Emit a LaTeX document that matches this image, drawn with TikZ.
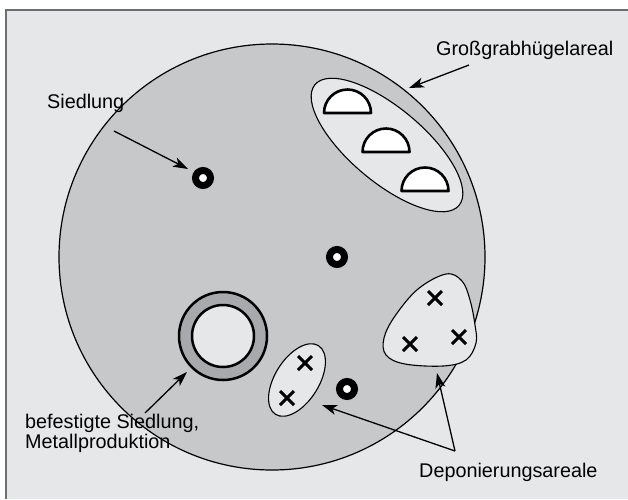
\documentclass[tikz,border=0pt]{standalone}
\usepackage{fontspec}
\setmainfont{Liberation Sans}
\usetikzlibrary{shapes.geometric,arrows.meta}
\definecolor{bg}{HTML}{E6E7E8}
\definecolor{regionfill}{HTML}{C7C8CA}
\definecolor{ringfill}{HTML}{A7A9AC}
\definecolor{framecol}{HTML}{6D6E71}
\tikzset{
  lbl/.style={font=\fontsize{19.8}{17.5}\selectfont, inner sep=0pt, anchor=base west, align=left},
  arr/.style={line width=1.3pt, -{Stealth[length=15pt,width=10pt,inset=4pt]}},
  area/.style={draw=black, line width=1.1pt, fill=bg},
  dome/.style={draw=black, line width=2.6pt, fill=white, line join=round},
  dot/.style={circle, draw=black, line width=7pt, fill=white, minimum size=15pt, inner sep=0pt},
  xm/.pic={\draw[line width=3pt] (-7,-7)--(7,7) (-7,7)--(7,-7);}
}
\begin{document}
\begin{tikzpicture}[x=1pt,y=-1pt]
\useasboundingbox (0,0) rectangle (628,499);
\fill[white] (0,0) rectangle (628,499);
\fill[bg] (6,10) rectangle (628,499);
\draw[framecol, line width=1.4pt] (6,499) -- (6,10) -- (628,10);
% main region
\node[circle, draw=black, line width=1.2pt, fill=regionfill, minimum size=426pt, inner sep=0pt] (region) at (272,257) {};
% Grossgrabhuegel area
\node[ellipse, area, minimum width=188pt, minimum height=74pt, rotate=-40] (hugel) at (387,145) {};
\draw[dome] (324,113) arc (180:360:23.5) -- cycle;
\draw[dome] (362.5,152) arc (180:360:23.5) -- cycle;
\draw[dome] (401.5,191) arc (180:360:23.5) -- cycle;
% settlements
\node[dot] (s1) at (203,178) {};
\node[dot] (s2) at (337,257) {};
\node[dot] (s3) at (347,389) {};
% fortified settlement
\node[circle, draw=black, line width=2.5pt, fill=ringfill, minimum size=88pt, inner sep=0pt] (ring) at (223,336) {};
\node[circle, draw=black, line width=2.5pt, fill=bg, minimum size=62pt, inner sep=0pt] (ringin) at (223,336) {};
% deposit areas
\node[ellipse, area, minimum width=81pt, minimum height=44pt, rotate=58] (dep1) at (297,380) {};
\pic at (305,363) {xm};
\pic at (287,398) {xm};
\draw[area] plot[smooth cycle, tension=0.6] coordinates {(446,274) (462,281) (470,300) (475,325) (476,343) (466,360) (443,366) (405,364) (386,355) (384,338) (395,316) (418,289)};
\pic at (435,298) {xm};
\pic at (459,337) {xm};
\pic at (410,344) {xm};
% labels
\node[lbl] (lg) at (436,55) {Großgrabhügelareal};
\node[lbl] (ls) at (47,108) {Siedlung};
\node[lbl] (lb) at (25,448) {befestigte Siedlung,\\Metallproduktion};
\node[lbl] (ld) at (419,477) {Deponierungsareale};
% arrows
\coordinate (ga) at (469,65);
\coordinate (gt) at (409,88);
\coordinate (sa) at (114,131);
\coordinate (st) at (188,169);
\coordinate (ba) at (145,413);
\coordinate (bt) at (187,372);
\coordinate (dv) at (455,451);
\coordinate (dt1) at (322,405);
\coordinate (dt2) at (437,373);
\draw[arr] (ga) -- (gt);
\draw[arr] (sa) -- (st);
\draw[arr] (ba) -- (bt);
\draw[arr] (dv) -- (dt1);
\draw[arr] (dv) -- (dt2);
\end{tikzpicture}
\end{document}
